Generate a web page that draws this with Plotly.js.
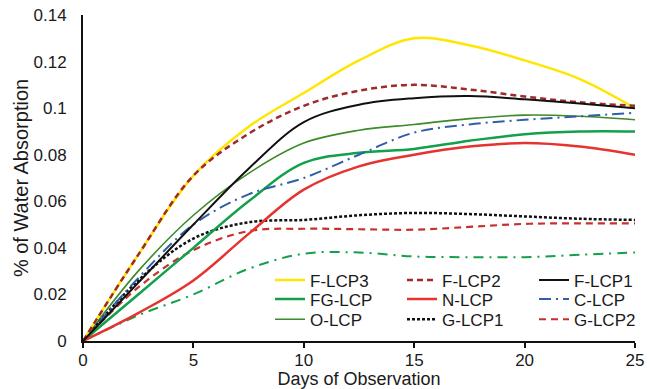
<!DOCTYPE html>
<html>
<head>
<meta charset="utf-8">
<script src="https://cdn.plot.ly/plotly-3.0.1.min.js"></script>
<style>html,body{margin:0;padding:0;background:#fff;}#chart{width:657px;height:389px;}</style>
</head>
<body>
<div id="chart"></div>
<script>
// Days of observation
var days = [0, 2.5, 5, 7.5, 10, 12.5, 15, 17.5, 20, 22.5, 25];

// % of water absorption per series
var fLcp3 = [0, 0.037, 0.071, 0.092, 0.1065, 0.1205, 0.130, 0.1270, 0.1205, 0.1125, 0.100];
var fLcp2 = [0, 0.037, 0.071, 0.089, 0.101, 0.1075, 0.110, 0.108, 0.105, 0.1025, 0.101];
var fLcp1 = [0, 0.025, 0.050, 0.074, 0.094, 0.1015, 0.1043, 0.1052, 0.1038, 0.102, 0.100];
var fgLcp = [0, 0.020, 0.040, 0.060, 0.0765, 0.0808, 0.0825, 0.086, 0.0888, 0.090, 0.090];
var nLcp  = [0, 0.012, 0.026, 0.046, 0.065, 0.075, 0.080, 0.0835, 0.085, 0.0835, 0.080];
var cLcp  = [0, 0.027, 0.050, 0.063, 0.070, 0.080, 0.0895, 0.093, 0.095, 0.0965, 0.098];
var oLcp  = [0, 0.030, 0.054, 0.072, 0.085, 0.0905, 0.093, 0.0955, 0.097, 0.0965, 0.095];
var gLcp1 = [0, 0.026, 0.044, 0.051, 0.052, 0.054, 0.055, 0.0545, 0.0535, 0.0525, 0.052];
var gLcp2 = [0, 0.023, 0.039, 0.0472, 0.0482, 0.048, 0.0478, 0.049, 0.0503, 0.0505, 0.0505];
var unlabeled = [0, 0.011, 0.020, 0.031, 0.0375, 0.038, 0.0363, 0.036, 0.036, 0.037, 0.038];

var xTicks = [0, 5, 10, 15, 20, 25];
var yTicks = [0, 0.02, 0.04, 0.06, 0.08, 0.1, 0.12, 0.14];
var yTickText = ['0', '0.02', '0.04', '0.06', '0.08', '0.1', '0.12', '0.14'];

function tr(name, y, color, width, dash, legend) {
  var t = {
    x: days, y: y, name: name, type: 'scatter', mode: 'lines',
    line: {color: color, width: width, dash: dash, shape: 'spline', smoothing: 1},
    hoverinfo: 'skip'
  };
  if (legend) { t.legend = legend; } else { t.showlegend = false; }
  return t;
}

// drawing order (later = on top); each legend row keeps its own order
var data = [
  tr('', unlabeled, '#12a04a', 2, '10px,6px,2px,6px', null),
  // row 3
  tr('O-LCP', oLcp, '#3c8a28', 1.6, 'solid', 'legend3'),
  tr('G-LCP1', gLcp1, '#111111', 2.5, '3px,2px', 'legend3'),
  tr('G-LCP2', gLcp2, '#c8302e', 2.2, '7px,5px', 'legend3'),
  // row 2
  tr('FG-LCP', fgLcp, '#12a04a', 2.5, 'solid', 'legend2'),
  tr('N-LCP', nLcp, '#e5332f', 2.5, 'solid', 'legend2'),
  tr('C-LCP', cLcp, '#2f5fa8', 2, '12px,5px,2px,5px', 'legend2'),
  // row 1
  tr('F-LCP3', fLcp3, '#ffe600', 2.5, 'solid', 'legend'),
  tr('F-LCP2', fLcp2, '#a02a2a', 2.5, '6px,4px', 'legend'),
  tr('F-LCP1', fLcp1, '#111111', 2, 'solid', 'legend')
];

var legendFont = {family: 'Liberation Sans, Arial, sans-serif', size: 17, color: '#1a1a1a'};
function legendCfg(y) {
  return {
    orientation: 'h', x: 0.3388, xanchor: 'left', y: y, yanchor: 'top',
    bgcolor: 'rgba(0,0,0,0)', borderwidth: 0, font: legendFont, traceorder: 'normal',
    entrywidth: 87, entrywidthmode: 'pixels', itemclick: false, itemdoubleclick: false
  };
}

var layout = {
  width: 657, height: 389,
  margin: {l: 83, r: 22, t: 15, b: 48, autoexpand: false},
  paper_bgcolor: '#ffffff', plot_bgcolor: '#ffffff',
  font: {family: 'Liberation Sans, Arial, sans-serif', color: '#1a1a1a'},
  showlegend: true,
  legend: legendCfg(0.241),
  legend2: legendCfg(0.183),
  legend3: legendCfg(0.1206),
  xaxis: {
    range: [0, 25], tickvals: xTicks, ticktext: xTicks.map(String),
    showline: true, linecolor: '#111', linewidth: 2,
    ticks: 'outside', ticklen: 5, tickwidth: 2, tickcolor: '#111',
    ticklabelstandoff: -2,
    showgrid: false, zeroline: false,
    tickfont: {size: 17, color: '#1a1a1a'},
    title: {text: 'Days of Observation', font: {size: 18, color: '#1a1a1a'}, standoff: 5}
  },
  yaxis: {
    range: [0, 0.14], tickvals: yTicks, ticktext: yTickText,
    showline: true, linecolor: '#111', linewidth: 2,
    ticks: '', showgrid: false, zeroline: false,
    ticklabelstandoff: 11,
    tickfont: {size: 17, color: '#1a1a1a'},
    title: {text: '% of Water Absorption', font: {size: 20, color: '#1a1a1a'}, standoff: 0}
  }
};

Plotly.newPlot('chart', data, layout, {displayModeBar: false, staticPlot: true});
</script>
</body>
</html>
